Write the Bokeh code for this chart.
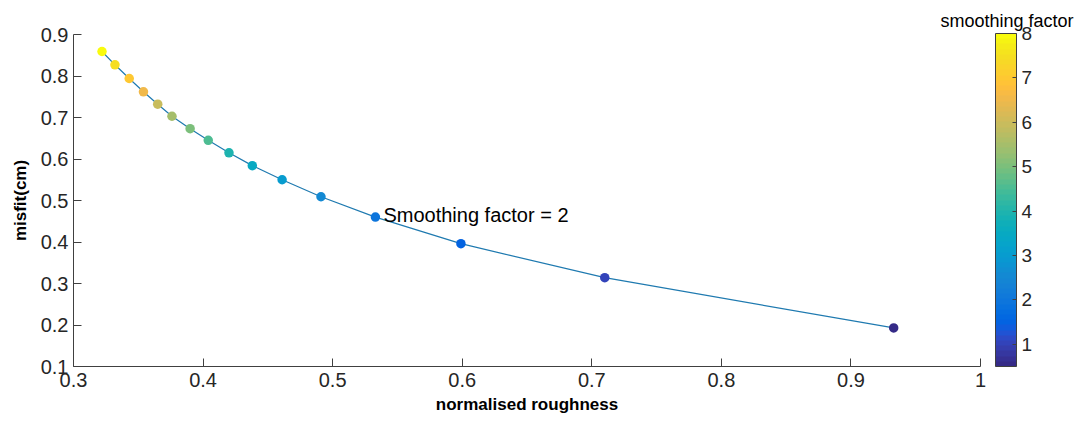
from bokeh.plotting import figure
from bokeh.models import (LinearColorMapper, ColorBar, FixedTicker, Label, Title,
                          CustomJSTickFormatter, ColumnDataSource)
from bokeh.transform import transform
from bokeh.embed import file_html
from bokeh.resources import INLINE

# ---- data ----
smoothing_factor = [0.5, 1.0, 1.5, 2.0, 2.5, 3.0, 3.5, 4.0, 4.5, 5.0, 5.5, 6.0, 6.5, 7.0, 7.5, 8.0]
roughness = [0.933, 0.710, 0.599, 0.533, 0.491, 0.461, 0.438, 0.420, 0.404, 0.390,
             0.376, 0.365, 0.354, 0.343, 0.332, 0.322]
misfit = [0.193, 0.314, 0.396, 0.460, 0.509, 0.550, 0.584, 0.615, 0.645, 0.673,
          0.703, 0.732, 0.762, 0.794, 0.827, 0.859]
x_ticks = [0.3, 0.4, 0.5, 0.6, 0.7, 0.8, 0.9, 1.0]
y_ticks = [0.1, 0.2, 0.3, 0.4, 0.5, 0.6, 0.7, 0.8, 0.9]
cbar_ticks = [1, 2, 3, 4, 5, 6, 7, 8]
annotated_factor = 2.0

parula_rgb = [
    (0.2081, 0.1663, 0.5292), (0.2116, 0.1898, 0.5777), (0.2123, 0.2138, 0.6270),
    (0.2081, 0.2386, 0.6771), (0.1959, 0.2645, 0.7279), (0.1707, 0.2919, 0.7792),
    (0.1253, 0.3242, 0.8303), (0.0591, 0.3598, 0.8683), (0.0117, 0.3875, 0.8820),
    (0.0060, 0.4086, 0.8828), (0.0165, 0.4266, 0.8786), (0.0329, 0.4430, 0.8720),
    (0.0498, 0.4586, 0.8641), (0.0629, 0.4737, 0.8554), (0.0723, 0.4887, 0.8467),
    (0.0779, 0.5040, 0.8384), (0.0793, 0.5200, 0.8312), (0.0749, 0.5375, 0.8263),
    (0.0641, 0.5570, 0.8240), (0.0488, 0.5772, 0.8228), (0.0343, 0.5966, 0.8199),
    (0.0265, 0.6137, 0.8135), (0.0239, 0.6287, 0.8038), (0.0231, 0.6418, 0.7913),
    (0.0228, 0.6535, 0.7768), (0.0267, 0.6642, 0.7607), (0.0384, 0.6743, 0.7436),
    (0.0590, 0.6838, 0.7254), (0.0843, 0.6928, 0.7062), (0.1133, 0.7015, 0.6859),
    (0.1453, 0.7098, 0.6646), (0.1801, 0.7177, 0.6424), (0.2178, 0.7250, 0.6193),
    (0.2586, 0.7317, 0.5954), (0.3022, 0.7376, 0.5712), (0.3482, 0.7424, 0.5473),
    (0.3953, 0.7459, 0.5244), (0.4420, 0.7481, 0.5033), (0.4871, 0.7491, 0.4840),
    (0.5300, 0.7491, 0.4661), (0.5709, 0.7485, 0.4494), (0.6099, 0.7473, 0.4337),
    (0.6473, 0.7456, 0.4188), (0.6834, 0.7435, 0.4044), (0.7184, 0.7411, 0.3905),
    (0.7525, 0.7384, 0.3768), (0.7858, 0.7356, 0.3633), (0.8185, 0.7327, 0.3498),
    (0.8507, 0.7299, 0.3360), (0.8824, 0.7274, 0.3217), (0.9139, 0.7258, 0.3063),
    (0.9450, 0.7261, 0.2886), (0.9739, 0.7314, 0.2666), (0.9938, 0.7455, 0.2403),
    (0.9990, 0.7653, 0.2164), (0.9955, 0.7861, 0.1967), (0.9880, 0.8066, 0.1794),
    (0.9789, 0.8271, 0.1633), (0.9697, 0.8481, 0.1475), (0.9626, 0.8705, 0.1309),
    (0.9589, 0.8949, 0.1132), (0.9598, 0.9218, 0.0948), (0.9661, 0.9514, 0.0755),
    (0.9763, 0.9831, 0.0538),
]
parula = ["#%02x%02x%02x" % tuple(int(round(c * 255)) for c in rgb) for rgb in parula_rgb]

FONT = "Liberation Sans"
TXT = "#262626"

p = figure(width=1087, height=423, output_backend="svg", toolbar_location=None,
           x_range=(0.3, 1.0), y_range=(0.1, 0.9),
           min_border_left=73, min_border_right=107, min_border_top=34, min_border_bottom=57)
p.outline_line_color = None
p.grid.grid_line_color = None
p.background_fill_color = "white"
p.border_fill_color = "white"

for ax in (p.xaxis[0], p.yaxis[0]):
    ax.major_tick_in = 8
    ax.major_tick_out = 0
    ax.minor_tick_line_color = None
    ax.axis_line_color = "#404040"
    ax.major_tick_line_color = "#404040"
    ax.major_label_text_font = FONT
    ax.major_label_text_font_size = "20px"
    ax.major_label_text_color = TXT
    ax.axis_label_text_font = FONT
    ax.axis_label_text_font_size = "17px"
    ax.axis_label_text_font_style = "bold"
    ax.axis_label_text_color = "black"
    ax.formatter = CustomJSTickFormatter(code="return String(Math.round(tick*10)/10);")

p.xaxis.ticker = FixedTicker(ticks=x_ticks)
p.yaxis.ticker = FixedTicker(ticks=y_ticks)
p.xaxis.axis_label = "normalised roughness"
p.yaxis.axis_label = "misfit(cm)"
p.xaxis.major_label_standoff = 6
p.xaxis.axis_label_standoff = 5
p.yaxis.major_label_standoff = 5
p.yaxis.axis_label_standoff = 8

mapper = LinearColorMapper(palette=parula, low=0.5, high=8.0)
src = ColumnDataSource(dict(x=roughness, y=misfit, f=smoothing_factor))

p.line("x", "y", source=src, line_color="#1f7ab0", line_width=1.2)
p.scatter("x", "y", source=src, size=9.5, line_color=None,
          fill_color=transform("f", mapper))

idx = smoothing_factor.index(annotated_factor)
p.add_layout(Label(x=roughness[idx], y=misfit[idx], x_offset=8, y_offset=2,
                   text="Smoothing factor = 2", text_font=FONT, text_font_size="20px",
                   text_baseline="middle", text_color="black"))

cb = ColorBar(color_mapper=mapper, ticker=FixedTicker(ticks=cbar_ticks),
              location=(922, 0), width=21, height=333, padding=0, margin=0,
              orientation="vertical",
              major_tick_in=4, major_tick_out=0, major_tick_line_color="#404040",
              bar_line_color="#404040", label_standoff=5,
              major_label_text_font=FONT, major_label_text_font_size="19px",
              major_label_text_color=TXT,
              background_fill_alpha=0, border_line_color=None)
p.add_layout(cb)

cb_title = Title(text="smoothing factor", align="right", offset=-93,
                 text_font=FONT, text_font_size="18px", text_font_style="normal",
                 text_color="black", standoff=8)
p.add_layout(cb_title, "above")

open("out.html", "w").write(file_html(p, INLINE))
